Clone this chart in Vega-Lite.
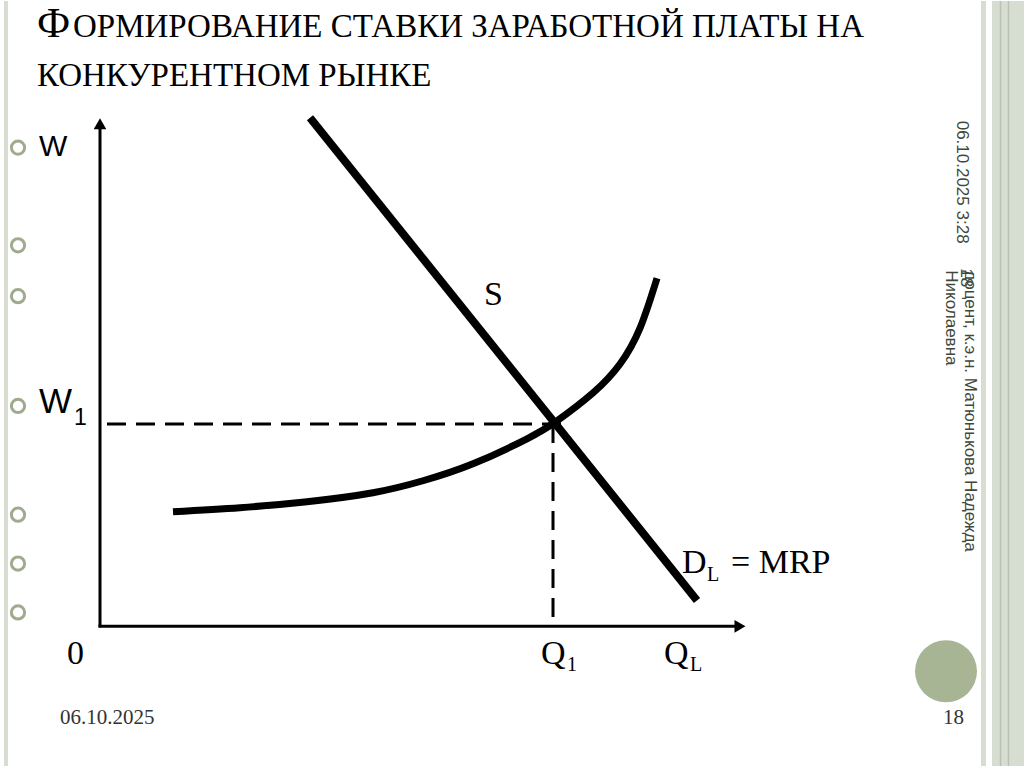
{
  "$schema": "https://vega.github.io/schema/vega-lite/v6.json",
  "width": 1024,
  "height": 767,
  "padding": 0,
  "autosize": {"type": "fit", "contains": "padding"},
  "background": "white",
  "config": {"view": {"stroke": null}},
  "encoding": {
    "x": {"field": "x", "type": "quantitative", "scale": {"domain": [0, 1024], "nice": false, "zero": false}, "axis": null},
    "y": {"field": "y", "type": "quantitative", "scale": {"domain": [0, 767], "nice": false, "zero": false, "reverse": true}, "axis": null}
  },
  "layer": [
    {
      "data": {"values": [
        {"x": 4, "x2": 8, "y": 0, "y2": 767},
        {"x": 981, "x2": 986, "y": 0, "y2": 767},
        {"x": 992, "x2": 1024, "y": 0, "y2": 767}
      ]},
      "mark": {"type": "rect", "color": "#d7ded1"},
      "encoding": {"x2": {"field": "x2"}, "y2": {"field": "y2"}}
    },
    {
      "data": {"values": [
        {"x": 1000.5, "y": 0, "y2": 767},
        {"x": 1008.5, "y": 0, "y2": 767}
      ]},
      "mark": {"type": "rule", "color": "#b8c2b0", "strokeWidth": 1.5},
      "encoding": {"y2": {"field": "y2"}}
    },
    {
      "data": {"values": [{"x": 946, "y": 672}]},
      "mark": {"type": "point", "shape": "circle", "filled": true, "size": 3844, "color": "#a7b595", "opacity": 1}
    },
    {
      "data": {"values": [
        {"x": 18, "y": 147}, {"x": 18, "y": 245}, {"x": 18, "y": 296},
        {"x": 18, "y": 406}, {"x": 18, "y": 515}, {"x": 18, "y": 564}, {"x": 18, "y": 613}
      ]},
      "mark": {"type": "point", "shape": "circle", "filled": false, "size": 175, "stroke": "#9fab8e", "strokeWidth": 3, "opacity": 1}
    },
    {
      "data": {"values": [
        {"x": 100, "y": 628, "x2": 100, "y2": 126},
        {"x": 98.5, "y": 627, "x2": 737, "y2": 627}
      ]},
      "mark": {"type": "rule", "color": "black", "strokeWidth": 3},
      "encoding": {"x2": {"field": "x2"}, "y2": {"field": "y2"}}
    },
    {
      "data": {"values": [{"x": 100, "y": 123}]},
      "mark": {"type": "point", "shape": "triangle-up", "filled": true, "size": 160, "color": "black", "opacity": 1}
    },
    {
      "data": {"values": [{"x": 740, "y": 627}]},
      "mark": {"type": "point", "shape": "triangle-right", "filled": true, "size": 160, "color": "black", "opacity": 1}
    },
    {
      "data": {"values": [
        {"x": 107, "y": 424, "x2": 568, "y2": 424},
        {"x": 553, "y": 424, "x2": 553, "y2": 624}
      ]},
      "mark": {"type": "rule", "color": "black", "strokeWidth": 3, "strokeDash": [19, 10]},
      "encoding": {"x2": {"field": "x2"}, "y2": {"field": "y2"}}
    },
    {
      "data": {"values": [{"x": 310, "y": 117}, {"x": 697, "y": 601}]},
      "mark": {"type": "line", "color": "black", "strokeWidth": 8, "strokeCap": "butt"},
      "encoding": {}
    },
    {
      "data": {"values": [
        {"x": 173, "y": 512}, {"x": 240, "y": 508}, {"x": 307, "y": 502}, {"x": 373, "y": 493},
        {"x": 423, "y": 481}, {"x": 473, "y": 464}, {"x": 527, "y": 439},
        {"x": 557, "y": 421}, {"x": 593, "y": 393}, {"x": 620, "y": 364},
        {"x": 640, "y": 328}, {"x": 657, "y": 278}
      ]},
      "mark": {"type": "line", "color": "black", "strokeWidth": 7, "interpolate": "natural", "strokeCap": "butt"},
      "encoding": {}
    },
    {
      "data": {"values": [{"x": 37, "y": 36, "t": "Ф"}]},
      "mark": {"type": "text", "font": "Liberation Serif", "fontSize": 42, "align": "left", "baseline": "alphabetic", "color": "black"},
      "encoding": {"text": {"field": "t"}}
    },
    {
      "data": {"values": [
        {"x": 73, "y": 36, "t": "ОРМИРОВАНИЕ СТАВКИ ЗАРАБОТНОЙ ПЛАТЫ НА"},
        {"x": 37, "y": 85, "t": "КОНКУРЕНТНОМ РЫНКЕ"}
      ]},
      "mark": {"type": "text", "font": "Liberation Serif", "fontSize": 33, "align": "left", "baseline": "alphabetic", "color": "black"},
      "encoding": {"text": {"field": "t"}}
    },
    {
      "data": {"values": [{"x": 39, "y": 155, "t": "W"}]},
      "mark": {"type": "text", "font": "Liberation Sans", "fontSize": 30, "align": "left", "baseline": "alphabetic", "color": "black"},
      "encoding": {"text": {"field": "t"}}
    },
    {
      "data": {"values": [{"x": 39, "y": 413, "t": "W"}]},
      "mark": {"type": "text", "font": "Liberation Sans", "fontSize": 35, "align": "left", "baseline": "alphabetic", "color": "black"},
      "encoding": {"text": {"field": "t"}}
    },
    {
      "data": {"values": [{"x": 74, "y": 425, "t": "1"}]},
      "mark": {"type": "text", "font": "Liberation Sans", "fontSize": 23, "align": "left", "baseline": "alphabetic", "color": "black"},
      "encoding": {"text": {"field": "t"}}
    },
    {
      "data": {"values": [
        {"x": 484, "y": 305, "t": "S"},
        {"x": 67, "y": 665, "t": "0"},
        {"x": 682, "y": 573, "t": "D"},
        {"x": 731, "y": 573, "t": "= MRP"},
        {"x": 541, "y": 665, "t": "Q"},
        {"x": 664, "y": 665, "t": "Q"}
      ]},
      "mark": {"type": "text", "font": "Liberation Serif", "fontSize": 34, "align": "left", "baseline": "alphabetic", "color": "black"},
      "encoding": {"text": {"field": "t"}}
    },
    {
      "data": {"values": [
        {"x": 707, "y": 582, "t": "L"},
        {"x": 567, "y": 672, "t": "1"},
        {"x": 690, "y": 672, "t": "L"}
      ]},
      "mark": {"type": "text", "font": "Liberation Serif", "fontSize": 20, "align": "left", "baseline": "alphabetic", "color": "black"},
      "encoding": {"text": {"field": "t"}}
    },
    {
      "data": {"values": [
        {"x": 60, "y": 725, "t": "06.10.2025"},
        {"x": 943, "y": 725, "t": "18"}
      ]},
      "mark": {"type": "text", "font": "Liberation Serif", "fontSize": 21, "align": "left", "baseline": "alphabetic", "color": "#333333"},
      "encoding": {"text": {"field": "t"}}
    },
    {
      "data": {"values": [
        {"x": 957, "y": 120, "t": "06.10.2025 3:28"},
        {"x": 965, "y": 270, "t": "доцент, к.э.н. Матюнькова Надежда"},
        {"x": 946, "y": 270, "t": "Николаевна"},
        {"x": 961, "y": 268, "t": "18"}
      ]},
      "mark": {"type": "text", "font": "Liberation Sans", "fontSize": 17, "angle": 90, "align": "left", "baseline": "alphabetic", "color": "#404838"},
      "encoding": {"text": {"field": "t"}}
    }
  ]
}
